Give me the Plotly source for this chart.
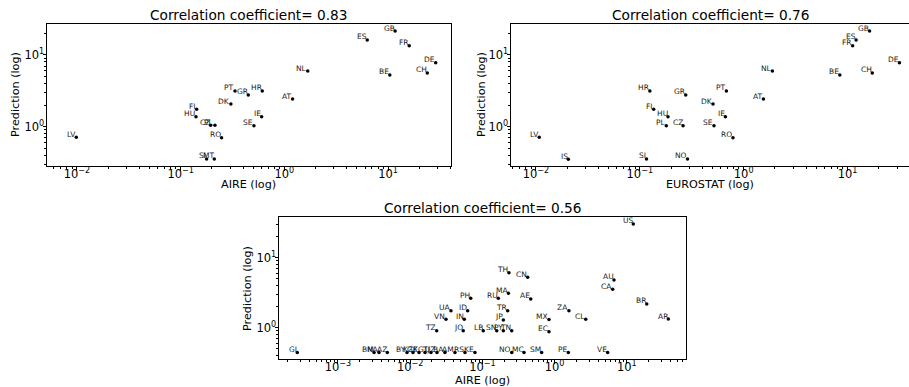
import numpy as np
import plotly.graph_objects as go

# ---------------- Data ----------------
# Panel 1: AIRE vs prediction (Europe)
p1_codes = ["LV", "FI", "HU", "CZ", "PL", "RO", "SI", "MT", "PT", "GR", "HR", "DK",
            "IE", "SE", "AT", "NL", "ES", "GB", "FR", "DE", "CH", "BE"]
p1_aire = [0.00985, 0.1426, 0.1405, 0.1945, 0.214, 0.248, 0.178, 0.211, 0.334, 0.449,
           0.612, 0.305, 0.604, 0.509, 1.20, 1.68, 6.30, 11.7, 16.0, 28.8, 23.9, 10.4]
p1_pred = [0.711, 1.75, 1.38, 1.046, 1.046, 0.703, 0.355, 0.355, 3.15, 2.77,
           3.15, 2.07, 1.38, 1.03, 2.43, 5.98, 16.2, 21.6, 13.5, 7.81, 5.61, 5.26]
p1_title = "Correlation coefficient= 0.83"

# Panel 2: EUROSTAT vs prediction (Europe)
p2_codes = ["LV", "IS", "SI", "NO", "HR", "GR", "FI", "HU", "PL", "CZ", "PT", "DK",
            "IE", "SE", "RO", "AT", "NL", "BE", "CH", "DE", "GB", "ES", "FR"]
p2_eurostat = [0.01076, 0.0205, 0.116, 0.288, 0.125, 0.277, 0.136, 0.187, 0.180, 0.261,
               0.682, 0.507, 0.667, 0.518, 0.789, 1.55, 1.89, 8.43, 17.3, 31.6,
               16.3, 12.1, 11.2]
p2_pred = [0.711, 0.351, 0.355, 0.355, 3.15, 2.77, 1.75, 1.38, 1.03, 1.03, 3.15, 2.07,
           1.38, 1.03, 0.703, 2.43, 5.98, 5.26, 5.61, 7.81, 21.6, 16.2, 13.5]
p2_title = "Correlation coefficient= 0.76"

# Panel 3: AIRE vs prediction (world)
p3_codes = ["GI", "BM", "NA", "AZ", "BY", "KZ", "GE", "KG", "TJ", "UZ", "BA", "AM", "RS", "KE",
            "NO", "MC", "SM", "PE", "VE",
            "TZ", "JO", "LB", "SN", "PY", "TN", "EC",
            "VN", "IN", "JP", "MX", "CL", "AR",
            "UA", "ID", "TR", "ZA",
            "PH", "RU", "MA", "AE", "BR",
            "TH", "CN", "AU", "CA", "US"]
p3_aire = [0.000273, 0.00316, 0.0037, 0.00482, 0.00903, 0.01094, 0.01324, 0.01603, 0.0194,
           0.0235, 0.0303, 0.0417, 0.0574, 0.0789,
           0.255, 0.377, 0.662, 1.55, 5.43,
           0.0233, 0.0543, 0.1028, 0.158, 0.195, 0.255, 0.836,
           0.0313, 0.0561, 0.195, 0.836, 2.70, 37.6,
           0.0367, 0.0625, 0.224, 1.58,
           0.0689, 0.166, 0.229, 0.467, 18.9,
           0.233, 0.424, 6.65, 6.38, 12.3]
p3_pred = [0.442, 0.442, 0.442, 0.442, 0.442, 0.442, 0.442, 0.442, 0.442,
           0.442, 0.442, 0.442, 0.442, 0.442,
           0.442, 0.442, 0.442, 0.442, 0.442,
           0.906, 0.906, 0.906, 0.906, 0.906, 0.906, 0.877,
           1.318, 1.318, 1.29, 1.31, 1.32, 1.33,
           1.75, 1.75, 1.75, 1.74,
           2.63, 2.63, 3.10, 2.57, 2.18,
           6.1, 5.25, 4.8, 3.54, 30.3]
p3_title = "Correlation coefficient= 0.56"

# Tick labels (decade exponents)
p1_xexp = [-2, -1, 0, 1]
p2_xexp = [-2, -1, 0, 1]
p3_xexp = [-3, -2, -1, 0, 1]
y_exp = [0, 1]

FONT = "DejaVu Sans"


def dec_labels(exps):
    vals = [10.0 ** e for e in exps]
    txt = ["10<sup>%s</sup>" % (("\u2212%d" % -e) if e < 0 else str(e)) for e in exps]
    return vals, txt


def minor_vals(lo, hi):
    out = []
    for d in range(int(np.floor(lo)) - 1, int(np.ceil(hi)) + 1):
        for m in range(2, 10):
            v = m * 10.0 ** d
            if lo <= np.log10(v) <= hi:
                out.append(v)
    return out


fig = go.Figure()
ann = []

panels = [
    dict(x=p1_aire, y=p1_pred, t=p1_codes, xa="x", ya="y"),
    dict(x=p2_eurostat, y=p2_pred, t=p2_codes, xa="x2", ya="y2"),
    dict(x=p3_aire, y=p3_pred, t=p3_codes, xa="x3", ya="y3"),
]
for p in panels:
    fig.add_trace(go.Scatter(
        x=p["x"], y=p["y"], mode="markers",
        marker=dict(color="black", size=3.5),
        xaxis=p["xa"], yaxis=p["ya"], showlegend=False, hoverinfo="skip",
        cliponaxis=False,
    ))
    for xv, yv, t in zip(p["x"], p["y"], p["t"]):
        ann.append(dict(x=np.log10(xv), y=np.log10(yv), xref=p["xa"], yref=p["ya"],
                        text=t, showarrow=False, xanchor="right", yanchor="bottom",
                        xshift=1.5, yshift=-3.5,
                        font=dict(family=FONT, size=7.5, color="#1a1a1a")))


def axis(domain, rng, exps, anchor, standoff):
    vals, txt = dec_labels(exps)
    return dict(
        type="log", domain=domain, range=rng, anchor=anchor,
        tickmode="array", tickvals=vals, ticktext=txt,
        ticks="outside", ticklen=3.5, tickwidth=0.8, tickcolor="black",
        ticklabelstandoff=standoff,
        showline=True, linecolor="black", linewidth=1, mirror=True,
        showgrid=False, zeroline=False,
        tickfont=dict(family=FONT, size=11.5, color="black"),
        minor=dict(tickmode="array", tickvals=minor_vals(rng[0], rng[1]),
                   ticks="outside", ticklen=2, tickwidth=0.6, tickcolor="black",
                   showgrid=False),
    )


W, H = 909, 387
r1x = [-2.289, 1.607]
r2x = [-2.24, 1.587]
r3x = [-3.817, 1.82]
rty = [-0.548, 1.432]
rby = [-0.447, 1.58]

top_dom = [1 - 166 / H, 1 - 24 / H]
bot_dom = [1 - 359 / H, 1 - 217 / H]

fig.update_layout(
    width=W, height=H, margin=dict(l=0, r=0, t=0, b=0),
    paper_bgcolor="white", plot_bgcolor="white",
    xaxis=axis([47 / W, 451 / W], r1x, p1_xexp, "y", -6),
    yaxis=axis(top_dom, rty, y_exp, "x", -4),
    xaxis2=axis([511 / W, 908.5 / W], r2x, p2_xexp, "y2", -6),
    yaxis2=axis(top_dom, rty, y_exp, "x2", -4),
    xaxis3=axis([279 / W, 686 / W], r3x, p3_xexp, "y3", -6),
    yaxis3=axis(bot_dom, rby, y_exp, "x3", -4),
)


def txt(x, y, s, size, angle=0):
    ann.append(dict(x=x / W, y=1 - y / H, xref="paper", yref="paper", text=s,
                    showarrow=False, xanchor="center", yanchor="middle", textangle=angle,
                    font=dict(family=FONT, size=size, color="black")))


txt(249, 15, p1_title, 13.7)
txt(710, 15, p2_title, 13.7)
txt(482, 208, p3_title, 13.7)
txt(249, 184.5, "AIRE (log)", 11.2)
txt(710, 184.5, "EUROSTAT (log)", 11.2)
txt(482, 380.5, "AIRE (log)", 11.2)
txt(15, 95, "Prediction (log)", 11.2, -90)
txt(481, 95, "Prediction (log)", 11.2, -90)
txt(247, 288, "Prediction (log)", 11.2, -90)
fig.update_layout(annotations=ann)

fig.write_html("out.html")
